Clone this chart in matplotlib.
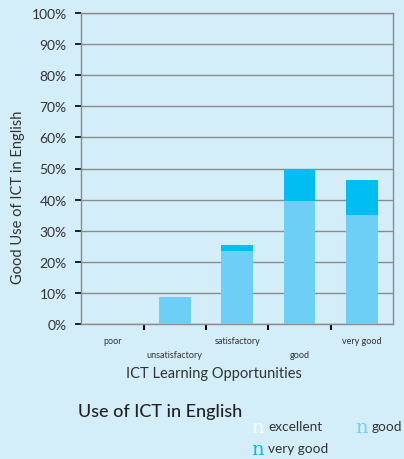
import matplotlib
matplotlib.use("Agg")
import matplotlib.pyplot as plt
from matplotlib.ticker import FixedLocator, PercentFormatter

# data (percent of lessons)
categories = ["poor", "unsatisfactory", "satisfactory", "good", "very good"]
excellent = [0, 0, 0, 0, 0]
good = [0, 8.7, 23.6, 39.7, 35.2]
very_good = [0, 0, 1.9, 10.3, 11.2]

BG = "#d3edf9"
C_GOOD = "#6dcff6"
C_VGOOD = "#00bdf2"
C_EXC = "#ffffff"
TXT = "#333333"

plt.rcParams["font.family"] = ["Lato", "DejaVu Sans"]

fig = plt.figure(figsize=(4.04, 4.60), dpi=100, facecolor=BG)
ax = fig.add_axes([81.3 / 404, 1 - 325 / 460, (393 - 81.3) / 404, (325 - 14) / 460])
ax.set_facecolor(BG)

x = list(range(len(categories)))
w = 0.51
ax.bar(x, good, width=w, color=C_GOOD, zorder=3)
ax.bar(x, very_good, width=w, bottom=good, color=C_VGOOD, zorder=3)
tops = [g + v for g, v in zip(good, very_good)]
ax.bar(x, excellent, width=w, bottom=tops, color=C_EXC, zorder=3)

ax.set_xlim(-0.5, len(categories) - 0.5)
ax.set_ylim(0, 100)
ax.set_yticks(range(0, 101, 10))
ax.yaxis.set_major_formatter(PercentFormatter(decimals=0))
ax.grid(axis="y", color="#8c8c8c", linewidth=1.0, zorder=1)
for s in ax.spines.values():
    s.set_color("#8c8c8c")
    s.set_linewidth(1.0)

ax.tick_params(axis="y", direction="out", length=4.5, width=1.2, color="black",
               labelsize=10, labelcolor=TXT, pad=6)

# category labels at centres (staggered), tick marks at boundaries
ax.set_xticks(x)
ax.set_xticklabels([c if i % 2 == 0 else "\n" + c for i, c in enumerate(categories)])
ax.tick_params(axis="x", which="major", length=0, labelsize=6.5, labelcolor=TXT, pad=8.5)
for lab in ax.get_xticklabels():
    lab.set_linespacing(1.7)
ax.xaxis.set_minor_locator(FixedLocator([i + 0.5 for i in x[:-1]]))
ax.tick_params(axis="x", which="minor", direction="out", length=4.5, width=1.5, color="black")

fig.text(18 / 404, 1 - 197 / 460, "Good Use of ICT in English", fontsize=10.5,
         color=TXT, rotation=90, ha="center", va="center")
fig.text(214 / 404, 1 - 374 / 460, "ICT Learning Opportunities", fontsize=10.5,
         color=TXT, ha="center", va="center")

fig.text(78 / 404, 1 - 412 / 460, "Use of ICT in English", fontsize=13,
         color="#222222", ha="left", va="center", fontweight="medium")

legend_items = [("excellent", C_EXC, 251, 427), ("good", C_GOOD, 355, 427),
                ("very good", C_VGOOD, 251, 449)]
for name, col, px, py in legend_items:
    fig.text(px / 404, 1 - (py + 1) / 460, "n", fontsize=14, color=col, family="DejaVu Serif",
             ha="left", va="center")
    fig.text((px + 17) / 404, 1 - py / 460, name, fontsize=9.8, color=TXT,
             ha="left", va="center")

fig.savefig("out.png", dpi=100, facecolor=BG)
